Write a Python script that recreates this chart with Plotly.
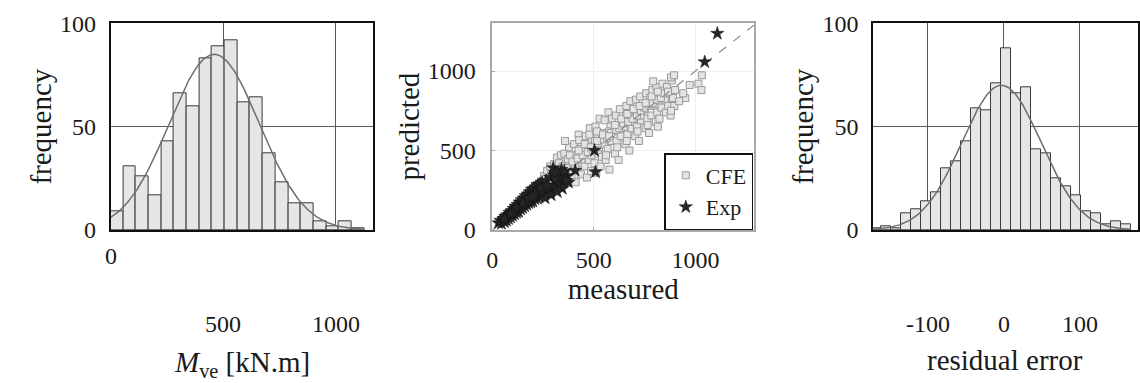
import numpy as np
import plotly.graph_objects as go

# ---------------- data ----------------
# Left histogram: M_ve [kN.m]
mve_bin_start = 0.0
mve_bin_width = 56.3
mve_counts = [9, 31, 26, 17, 43, 66, 60, 83, 89, 92, 62, 64, 37, 23, 13, 13, 4, 2, 4, 1]
mve_fit_mean = 460.0
mve_fit_sigma = 200.0
mve_fit_peak = 85.0

# Right histogram: residual error
res_bin_start = -174.5
res_bin_width = 13.16
res_counts = [1, 2, 1, 8, 10, 14, 18, 30, 33, 43, 59, 58, 71, 88, 66, 69, 39, 37, 25, 21, 17, 9, 8, 3, 4, 3]
res_fit_mean = -3.0
res_fit_sigma = 52.0
res_fit_peak = 70.0

# Middle scatter: CFE (measured, predicted)
cfe_measured = [242, 255, 263, 270, 278, 248, 285, 290,
                300, 305, 312, 318, 325, 332, 338, 310, 328,
                350, 355, 362, 368, 372, 378, 385, 390, 358, 382,
                400, 403, 410, 415, 420, 425, 430, 436, 440, 408, 428,
                450, 455, 460, 466, 470, 475, 480, 486, 490, 458, 478, 488,
                500, 503, 508, 512, 518, 522, 528, 533, 538, 505, 525, 540, 515,
                550, 553, 558, 563, 568, 572, 577, 582, 588, 560, 575, 590,
                600, 604, 608, 612, 618, 622, 628, 632, 638, 615, 635,
                650, 655, 660, 665, 670, 675, 680, 686, 690, 662, 684, 658,
                700, 704, 708, 712, 718, 722, 728, 733, 738, 715, 735, 706,
                750, 754, 758, 763, 768, 772, 778, 783, 788, 765, 780,
                800, 805, 808, 812, 818, 823, 828, 833, 838, 815,
                850, 855, 860, 866, 872, 878, 884, 890, 896, 880, 900,
                792, 895, 972, 1015, 1030, 1032, 950, 920, 940, 880,
                330, 345, 365, 395, 420, 445, 470, 495, 520, 545, 565, 585, 610, 625,
                645, 668, 690, 712, 730, 748, 770, 790, 810, 830, 845, 865,
                425, 455, 485, 515, 545, 575, 605, 635, 665, 695, 725, 755, 785, 815]
cfe_predicted = [300, 340, 285, 372, 320, 262, 400, 350,
                 300, 415, 360, 455, 330, 390, 470, 280, 420,
                 350, 480, 410, 300, 445, 520, 375, 330, 560, 470,
                 420, 540, 300, 470, 380, 600, 510, 350, 440, 390, 565,
                 480, 400, 590, 330, 520, 440, 640, 370, 560, 500, 600, 470,
                 530, 420, 650, 360, 580, 480, 700, 400, 610, 560, 520, 460, 620,
                 540, 690, 440, 600, 510, 740, 380, 650, 560, 470, 620, 700,
                 620, 480, 720, 560, 660, 440, 760, 590, 690, 520, 640,
                 650, 540, 780, 600, 700, 500, 810, 640, 740, 560, 680, 720,
                 700, 590, 820, 650, 760, 560, 840, 690, 780, 620, 720, 740,
                 760, 640, 860, 700, 800, 610, 830, 720, 880, 660, 780,
                 790, 680, 900, 740, 830, 700, 860, 770, 920, 650,
                 820, 740, 900, 780, 860, 720, 940, 830, 780, 960, 880,
                 935, 973, 912, 920, 880, 973, 830, 810, 860, 750,
                 360, 400, 390, 430, 450, 470, 490, 500, 545, 570, 580, 610, 630, 640,
                 670, 680, 700, 720, 750, 770, 790, 800, 820, 830, 860, 870,
                 500, 540, 520, 560, 600, 590, 660, 700, 730, 760, 780, 800, 840, 870]

# Middle scatter: Exp (measured, predicted)
exp_measured = [30, 40, 45, 55, 60, 65, 70, 75, 80, 85, 90, 95, 100, 105, 110, 115, 120, 125,
                130, 135, 140, 145, 150, 155, 160, 165, 170, 175, 180, 185, 190, 195, 200,
                205, 210, 215, 220, 225, 230, 235, 240, 245, 250, 260, 265, 270, 280, 285,
                290, 300, 305, 310, 320, 325, 330, 340, 345, 350, 360, 370, 375,
                120, 150, 180, 210, 240, 100, 60, 90, 200, 270, 330,
                260, 290, 300, 310, 340, 355, 365, 345, 320,
                408, 503, 508, 1046, 1108]
exp_predicted = [45, 60, 40, 70, 50, 85, 60, 95, 70, 110, 80, 120, 90, 135, 100, 150, 110, 160,
                 115, 175, 130, 190, 140, 200, 150, 215, 160, 225, 170, 240, 175, 255, 180,
                 260, 195, 270, 200, 285, 210, 290, 220, 300, 230, 245, 310, 240, 260, 330,
                 255, 280, 345, 270, 300, 350, 290, 320, 355, 300, 335, 340, 300,
                 140, 170, 200, 230, 260, 110, 70, 100, 210, 280, 330,
                 200, 220, 390, 360, 380, 370, 310, 260, 240,
                 374, 500, 365, 1057, 1236]

# reference diagonal (measured = predicted)
diag = [0, 1290]

# tick labels
mve_ticks = [0, 500, 1000]
freq_ticks = [0, 50, 100]
scatter_ticks = [0, 500, 1000]
res_ticks = [-100, 0, 100]

# ---------------- style ----------------
FONT = "Liberation Serif"
TXT = "#1a1a1a"
BAR_FILL = "#e6e6e6"
BAR_EDGE = "#3a3a3a"
CURVE = "#6e6e6e"
W, H = 1140, 383


def px_x(p):
    return p / W


def px_y(p):
    return (H - p) / H


fig = go.Figure()

# Left histogram
mve_centers = [mve_bin_start + (i + 0.5) * mve_bin_width for i in range(len(mve_counts))]
fig.add_trace(go.Bar(x=mve_centers, y=mve_counts, width=mve_bin_width,
                     marker=dict(color=BAR_FILL, line=dict(color=BAR_EDGE, width=1)),
                     xaxis="x", yaxis="y", showlegend=False))
mx = np.linspace(mve_bin_start, mve_bin_start + len(mve_counts) * mve_bin_width, 200)
my = mve_fit_peak * np.exp(-0.5 * ((mx - mve_fit_mean) / mve_fit_sigma) ** 2)
fig.add_trace(go.Scatter(x=mx, y=my, mode="lines", line=dict(color=CURVE, width=1.5),
                         xaxis="x", yaxis="y", showlegend=False))

# Middle scatter
fig.add_trace(go.Scatter(x=cfe_measured, y=cfe_predicted, mode="markers", name="CFE",
                         marker=dict(symbol="square", size=7, color="#e4e4e4",
                                     line=dict(color="#9a9a9a", width=1)),
                         xaxis="x2", yaxis="y2"))
fig.add_trace(go.Scatter(x=diag, y=diag, mode="lines", line=dict(color="#8a8a8a", width=1.2, dash="dash"),
                         xaxis="x2", yaxis="y2", showlegend=False))
fig.add_trace(go.Scatter(x=exp_measured, y=exp_predicted, mode="markers", name="Exp",
                         marker=dict(symbol="star", size=10, color="#262626",
                                     line=dict(color="#111111", width=0.5)),
                         xaxis="x2", yaxis="y2"))

# Right histogram
res_centers = [res_bin_start + (i + 0.5) * res_bin_width for i in range(len(res_counts))]
fig.add_trace(go.Bar(x=res_centers, y=res_counts, width=res_bin_width,
                     marker=dict(color=BAR_FILL, line=dict(color=BAR_EDGE, width=1)),
                     xaxis="x3", yaxis="y3", showlegend=False))
rx = np.linspace(res_bin_start, res_bin_start + len(res_counts) * res_bin_width, 200)
ry = res_fit_peak * np.exp(-0.5 * ((rx - res_fit_mean) / res_fit_sigma) ** 2)
fig.add_trace(go.Scatter(x=rx, y=ry, mode="lines", line=dict(color=CURVE, width=1.5),
                         xaxis="x3", yaxis="y3", showlegend=False))

ydom = [px_y(230), px_y(23.3)]
hist_axis = dict(showline=True, linecolor="#111111", linewidth=1.5, mirror=True,
                 showgrid=True, gridcolor="#5a5a5a", gridwidth=1, zeroline=False,
                 ticks="", automargin=False)
tickfont = dict(family=FONT, size=24, color=TXT)
titlefont = dict(family=FONT, size=29, color=TXT)

fig.update_layout(
    width=W, height=H, margin=dict(l=0, r=0, t=0, b=0),
    paper_bgcolor="white", plot_bgcolor="white",
    font=dict(family=FONT, color=TXT),
    bargap=0,
    xaxis=dict(domain=[px_x(110.6), px_x(373)], range=[0, 1165], anchor="y",
               tickvals=mve_ticks[1:], showticklabels=False, **hist_axis),
    yaxis=dict(domain=ydom, range=[0, 100], anchor="x", tickvals=freq_ticks,
               tickfont=tickfont, ticklabelstandoff=8,
               title=dict(text="frequency", font=titlefont, standoff=0), **hist_axis),
    xaxis2=dict(domain=[px_x(492.3), px_x(754.3)], range=[0, 1290], anchor="y2",
                tickvals=scatter_ticks, tickfont=tickfont, ticklabelstandoff=7,
                showline=True, linecolor="#a8a8a8", linewidth=1.5, mirror=True,
                showgrid=True, gridcolor="#eeeeee", zeroline=False, ticks="inside",
                ticklen=3, tickcolor="#a8a8a8", automargin=False,
                title=dict(text="measured", font=titlefont, standoff=0)),
    yaxis2=dict(domain=ydom, range=[0, 1300], anchor="x2", tickvals=scatter_ticks,
                tickfont=tickfont, ticklabelstandoff=10,
                showline=True, linecolor="#a8a8a8", linewidth=1.5, mirror=True,
                showgrid=True, gridcolor="#eeeeee", zeroline=False, ticks="inside",
                ticklen=3, tickcolor="#a8a8a8", automargin=False,
                title=dict(text="predicted", font=titlefont, standoff=0)),
    xaxis3=dict(domain=[px_x(873), px_x(1137.5)], range=[-172, 176], anchor="y3",
                tickvals=res_ticks, showticklabels=False, **hist_axis),
    yaxis3=dict(domain=ydom, range=[0, 100], anchor="x3", tickvals=freq_ticks,
                tickfont=tickfont, ticklabelstandoff=8,
                title=dict(text="frequency", font=titlefont, standoff=0), **hist_axis),
    legend=dict(x=px_x(753.3), xanchor="right", y=px_y(230), yanchor="bottom",
                bgcolor="white", bordercolor="#111111", borderwidth=1.5,
                font=dict(family=FONT, size=22, color=TXT), tracegroupgap=0,
                itemsizing="trace", itemwidth=30),
)

annots = []
# left x tick labels (placed as in reference)
annots.append(dict(x=mve_ticks[0], y=px_y(256), xref="x", yref="paper", text=str(mve_ticks[0]),
                   showarrow=False, font=tickfont, xanchor="center", yanchor="middle"))
for v in mve_ticks[1:]:
    annots.append(dict(x=v, y=px_y(324), xref="x", yref="paper", text=str(v),
                       showarrow=False, font=tickfont, xanchor="center", yanchor="middle"))
annots.append(dict(x=px_x(242), y=px_y(364), xref="paper", yref="paper",
                   text="<i>M</i><sub>ve</sub> [kN.m]", showarrow=False, font=titlefont,
                   xanchor="center", yanchor="middle"))
# right x tick labels
for v in res_ticks:
    annots.append(dict(x=v, y=px_y(324), xref="x3", yref="paper", text=str(v),
                       showarrow=False, font=tickfont, xanchor="center", yanchor="middle"))
annots.append(dict(x=px_x(1005), y=px_y(360), xref="paper", yref="paper",
                   text="residual error", showarrow=False, font=titlefont,
                   xanchor="center", yanchor="middle"))
fig.update_layout(annotations=annots)

fig.write_html("out.html")
